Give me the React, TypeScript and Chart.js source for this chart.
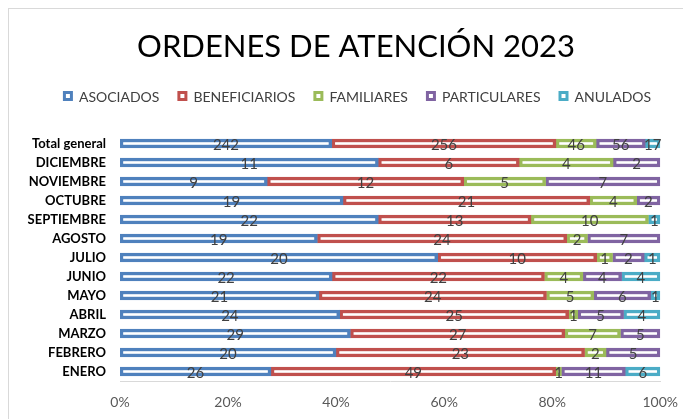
import React, { useEffect, useRef } from "react";
import { Chart, registerables } from "chart.js";

Chart.register(...registerables);

const TITLE = "ORDENES DE ATENCIÓN 2023";
const categories = [
  "Total general", "DICIEMBRE", "NOVIEMBRE", "OCTUBRE", "SEPTIEMBRE", "AGOSTO",
  "JULIO", "JUNIO", "MAYO", "ABRIL", "MARZO", "FEBRERO", "ENERO",
];
const seriesNames = ["ASOCIADOS", "BENEFICIARIOS", "FAMILIARES", "PARTICULARES", "ANULADOS"];
const asociados = [242, 11, 9, 19, 22, 19, 20, 22, 21, 24, 29, 20, 26];
const beneficiarios = [256, 6, 12, 21, 13, 24, 10, 22, 24, 25, 27, 23, 49];
const familiares = [46, 4, 5, 4, 10, 2, 1, 4, 5, 1, 7, 2, 1];
const particulares = [56, 2, 7, 2, 0, 7, 2, 4, 6, 5, 5, 5, 11];
const anulados = [17, 0, 0, 0, 1, 0, 1, 4, 1, 4, 0, 0, 6];
const xTicks = [0, 20, 40, 60, 80, 100];
const colors = ["#4f81bd", "#c0504d", "#9bbb59", "#8064a2", "#4bacc6"];

const FONT = "Lato, 'Open Sans', sans-serif";

export default function App() {
  const ref = useRef<HTMLCanvasElement | null>(null);
  useEffect(() => {
    if (!ref.current) return;
    const raw = [asociados, beneficiarios, familiares, particulares, anulados];
    const totals = categories.map((_, i) => raw.reduce((s, a) => s + a[i], 0));
    const datasets = raw.map((arr, k) => ({
      label: seriesNames[k],
      data: arr.map((v, i) => (v / totals[i]) * 100),
      raw: arr,
      backgroundColor: "#ffffff",
      borderColor: colors[k],
      borderWidth: 3.5,
      borderSkipped: false,
      barThickness: 9,
    }));

    const headerPlugin = {
      id: "header",
      afterDraw(chart: any) {
        const ctx = chart.ctx;
        ctx.save();
        ctx.fillStyle = "#000";
        ctx.font = `31px ${FONT}`;
        ctx.textAlign = "center";
        ctx.textBaseline = "middle";
        ctx.fillText(TITLE, 347, 38);
        // legend
        ctx.font = `14px ${FONT}`;
        const box = 10, gapText = 6, pad = 18;
        const widths = seriesNames.map((n) => ctx.measureText(n).width);
        const total = widths.reduce((s, w) => s + w + box + gapText, 0) + pad * (seriesNames.length - 1);
        let x = 348 - total / 2;
        const y = 87;
        seriesNames.forEach((n, k) => {
          ctx.fillStyle = "#fff";
          ctx.strokeStyle = colors[k];
          ctx.lineWidth = 3;
          ctx.fillRect(x, y - box / 2, box, box);
          ctx.strokeRect(x + 1.5, y - box / 2 + 1.5, box - 3, box - 3);
          ctx.fillStyle = "#404040";
          ctx.textAlign = "left";
          ctx.fillText(n, x + box + gapText, y + 1);
          x += box + gapText + widths[k] + pad;
        });
        ctx.restore();
      },
    };

    const labelPlugin = {
      id: "vals",
      afterDatasetsDraw(chart: any) {
        const ctx = chart.ctx;
        ctx.save();
        ctx.font = `15px ${FONT}`;
        ctx.fillStyle = "#404040";
        ctx.textAlign = "center";
        ctx.textBaseline = "middle";
        chart.data.datasets.forEach((ds: any, k: number) => {
          const meta = chart.getDatasetMeta(k);
          meta.data.forEach((bar: any, i: number) => {
            const v = ds.raw[i];
            if (!v) return;
            ctx.fillText(String(v), (bar.x + bar.base) / 2, bar.y + 2);
          });
        });
        ctx.restore();
      },
    };

    const chart = new Chart(ref.current, {
      type: "bar",
      data: { labels: categories, datasets: datasets as any },
      options: {
        indexAxis: "y",
        animation: false,
        responsive: false,
        layout: { padding: { top: 125, right: 28, left: 0, bottom: 0 } },
        plugins: { legend: { display: false }, title: { display: false }, tooltip: { enabled: false } },
        scales: {
          x: {
            stacked: true,
            min: 0,
            max: 100,
            afterBuildTicks: (s: any) => { s.ticks = xTicks.map((v) => ({ value: v })); },
            afterFit: (s: any) => { s.height = 38; },
            grid: { display: false, drawTicks: false },
            border: { display: true, color: "#d9d9d9", width: 1 },
            ticks: {
              padding: 13,
              color: "#595959",
              font: { family: FONT, size: 14 },
              callback: (v: any) => v + "%",
            },
          },
          y: {
            stacked: true,
            afterFit: (s: any) => { s.width = 111; },
            grid: { display: false, drawTicks: false },
            border: { display: false },
            ticks: {
              padding: 14,
              autoSkip: false,
              color: "#000",
              font: { family: FONT, size: 13, weight: "bold" },
            },
          },
        },
      },
      plugins: [headerPlugin, labelPlugin],
    } as any);
    return () => chart.destroy();
  }, []);
  return (
    <div style={{ width: 683, height: 411, borderTop: "1px solid #d9d9d9", borderLeft: "1px solid #d9d9d9", boxSizing: "border-box" as any, background: "#fff" }}>
      <canvas ref={ref} width={682} height={410} style={{ display: "block" }} />
    </div>
  );
}
